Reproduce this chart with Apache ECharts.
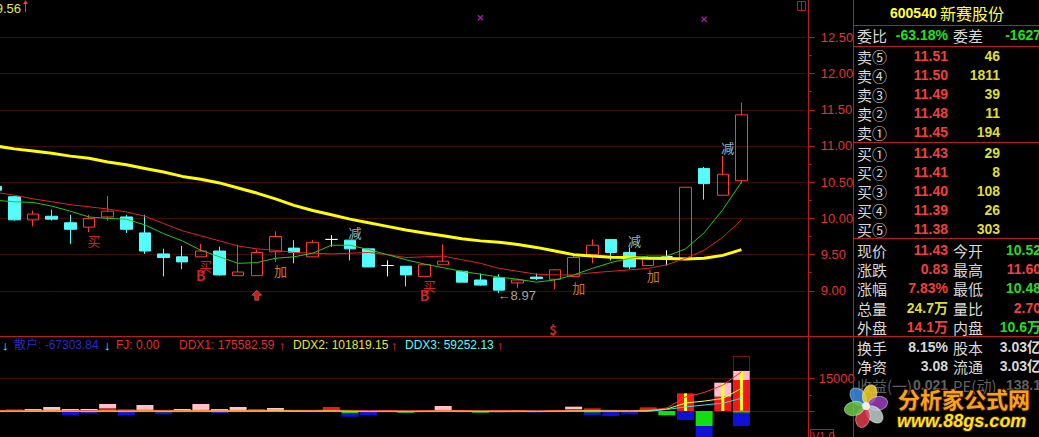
<!DOCTYPE html>
<html><head><meta charset="utf-8">
<script src="https://cdn.jsdelivr.net/npm/echarts@6/dist/echarts.min.js"></script>
<style>html,body{margin:0;padding:0;background:#000;overflow:hidden;width:1039px;height:437px;position:relative}#c{position:absolute;left:-14px;top:0;width:1053px;height:437px}</style>
</head><body><div id="c"></div>
<script>
// ---------------- DATA ----------------
const categories = ['1','2','3','4','5','6','7','8','9','10','11','12','13','14','15','16','17','18','19','20','21','22','23','24','25','26','27','28','29','30','31','32','33','34','35','36','37','38','39','40','41','42','43','44'];
const openP  = [10.44,10.30,9.98,10.03,9.94,9.88,10.02,10.02,9.80,9.51,9.47,9.47,9.55,9.21,9.21,9.54,9.59,9.47,9.71,9.70,9.58,9.35,9.34,9.20,9.36,9.27,9.15,9.18,9.11,9.19,9.16,9.20,9.50,9.71,9.53,9.35,9.47,9.45,10.69,10.32,10.52];
const closeP = [10.39,9.98,10.06,9.99,9.85,10.00,10.10,9.85,9.55,9.46,9.40,9.55,9.22,9.26,9.53,9.75,9.53,9.67,9.71,9.58,9.33,9.35,9.22,9.36,9.41,9.12,9.08,9.01,9.15,9.17,9.29,9.46,9.63,9.53,9.33,9.46,9.47,10.43,10.48,10.61,11.43];
const highP  = [10.46,10.31,10.11,10.12,10.05,10.05,10.31,10.05,10.05,9.58,9.62,9.65,9.61,9.64,9.57,9.82,9.70,9.70,9.77,9.70,9.58,9.42,9.34,9.37,9.64,9.28,9.24,9.23,9.17,9.24,9.30,9.52,9.71,9.71,9.60,9.48,9.56,10.43,10.71,10.86,11.60];
const lowP   = [10.37,9.97,9.89,9.97,9.65,9.81,9.97,9.80,9.51,9.20,9.30,9.47,9.21,9.21,9.21,9.40,9.38,9.47,9.61,9.42,9.33,9.20,9.06,9.20,9.36,9.12,9.07,8.97,9.04,9.15,9.02,9.20,9.38,9.42,9.30,9.34,9.35,9.44,10.26,10.32,10.48];
const ma5  = [10.25,10.23,10.22,10.17,10.10,10.02,10.00,9.99,9.91,9.79,9.69,9.56,9.47,9.38,9.39,9.45,9.47,9.52,9.63,9.63,9.57,9.50,9.43,9.37,9.32,9.27,9.23,9.19,9.16,9.12,9.15,9.22,9.31,9.39,9.45,9.48,9.48,9.58,9.80,10.12,10.50];
const ma10 = [10.36,10.32,10.27,10.23,10.19,10.16,10.13,10.09,10.03,9.93,9.83,9.76,9.69,9.62,9.58,9.56,9.53,9.52,9.51,9.52,9.53,9.50,9.46,9.47,9.48,9.43,9.38,9.31,9.27,9.23,9.22,9.22,9.25,9.27,9.29,9.31,9.36,9.45,9.56,9.74,9.98];
const ma60 = [11.00,10.96,10.93,10.90,10.86,10.83,10.78,10.74,10.69,10.64,10.58,10.54,10.49,10.42,10.35,10.27,10.18,10.11,10.05,9.99,9.94,9.89,9.84,9.80,9.76,9.72,9.69,9.67,9.64,9.60,9.55,9.50,9.48,9.465,9.46,9.45,9.445,9.44,9.45,9.49,9.57];
const priceMajor = [9.0,9.5,10.0,10.5,11.0,11.5,12.0,12.5];
const priceMinor = [9.25,9.75,10.25,10.75,11.25,11.75,12.25];
// signals [index, price]
const sigBuy  = [[5,9.69],[11,9.35],[23,9.07]];
const sigB    = [[11,9.22],[23,8.94]];
const sigAdd  = [[15,9.28],[31,9.04],[35,9.21]];
const sigCut  = [[19,9.80],[34,9.69],[39,10.98]];
const sigUp   = [[14,8.94]];
const sigS    = [[30,8.47]];
const sigLow  = [[27,8.93,'←8.97']];
const sigX    = [[26,12.77],[38,12.75]];
// lower DDX panel
const ddxRed   = [460,770,0,0,0,0,1240,770,460,460,0,460,0,0,930,0,460,460,1860,0,0,460,0,460,0,460,0,460,460,0,460,930,1240,0,0,1700,0,8200,0,6650,14400];
const ddxPink  = [0,0,930,1860,930,930,2000,0,2320,0,930,2780,930,1860,0,1390,0,0,0,0,0,0,0,0,2320,0,0,0,0,0,0,1080,0,0,0,0,0,0,0,6500,4200];
const ddxGreen = [0,0,0,0,0,0,0,0,0,-620,0,0,0,0,0,0,0,0,0,-1080,0,0,-770,0,0,0,-770,0,0,0,0,0,-770,0,0,0,-2000,0,-7000,0,-800];
const ddxBlue  = [-460,-460,0,0,-2000,-1240,0,-2000,0,-930,0,0,-900,0,0,0,0,-620,0,-1550,-2000,0,0,0,0,0,0,0,0,-620,0,0,-1240,-2320,-1550,0,0,-4200,-5200,0,-6200];
const ddxYellowBar = [0,0,0,0,0,0,0,0,0,0,0,0,0,0,0,0,0,0,0,0,0,0,0,0,0,0,0,0,0,0,0,0,0,0,0,0,0,8200,0,12850,18270];
const ddxBox   = [null,null,null,null,null,null,null,null,null,null,null,null,null,null,null,null,null,null,null,null,null,null,null,null,null,null,null,null,null,null,null,null,null,null,null,null,null,null,null,null,25540];
const ddx1 = [200,250,300,300,250,200,300,300,350,300,250,300,300,250,300,350,300,300,400,300,200,200,150,150,250,200,150,150,150,100,150,250,350,300,250,350,1400,6500,8600,12000,18200];
const ddx2 = [-100,-100,-50,0,-100,-150,-50,-100,0,-100,-50,0,-50,0,0,50,0,-50,50,-100,-200,-150,-200,-150,-50,-100,-150,-150,-100,-150,-100,0,50,0,-50,100,900,3700,4600,5800,10500];
const ddx3 = [-300,-250,-250,-200,-250,-300,-250,-300,-250,-300,-300,-250,-300,-250,-250,-200,-250,-250,-200,-250,-300,-300,-350,-300,-250,-300,-300,-350,-300,-300,-250,-200,-150,-200,-200,-150,700,1900,2800,3600,5900];
const volMajor = [0,15000];
const volMinor = [7500];
const volLabels = [15000];
const legendTexts = ['↓','散户: -67303.84','↓','FJ: 0.00','DDX1: 175582.59','↑','DDX2: 101819.15','↑','DDX3: 59252.13','↑'];
// quote board
const quoteCode = '600540', quoteName = '新赛股份';
const weiRow = ['委比','-63.18%','委差','-1627'];
const askLabels = ['卖⑤','卖④','卖③','卖②','卖①'];
const askPrices = ['11.51','11.50','11.49','11.48','11.45'];
const askVols   = ['46','1811','39','11','194'];
const bidLabels = ['买①','买②','买③','买④','买⑤'];
const bidPrices = ['11.43','11.41','11.40','11.39','11.38'];
const bidVols   = ['29','8','108','26','303'];
const statRows = [
  ['现价','11.43','r','今开','10.52','g'],
  ['涨跌','0.83','r','最高','11.60','r'],
  ['涨幅','7.83%','r','最低','10.48','g'],
  ['总量','24.7万','y','量比','2.70','r'],
  ['外盘','14.1万','r','内盘','10.6万','g']
];
const infoRows = [
  ['换手','8.15%','股本','3.03亿'],
  ['净资','3.08','流通','3.03亿']
];
const dimRow = ['收益(一)','0.021','PE(动)','138.1'];
const topValue = '9.56';

// ---------------- STYLE / LAYOUT ----------------
const SX = 14; // chart canvas is shifted 14px left of the page
const RED='#ff3c3c', CYAN='#54fcfc', GRN='#20e020', YEL='#e6e636', WHT='#d8d8d8';
const AX='#b81e1e', GRIDC='#7a1818';
const CJK='"Noto Sans CJK SC"';
const NUM='"Liberation Sans"';
const colorMap={r:'#f04040',g:'#22dd22',y:'#dede30',w:'#d8d8d8'};
const slotW = 18.64, gLeftPage = -13.5, gRightPage = gLeftPage + 44*slotW;

const chart = echarts.init(document.getElementById('c'), null, {renderer:'svg', width:1053, height:437});

function T(x,y,text,fill,font,align){
  return {type:'text', x:x+SX, y:y, z:20, silent:true,
    style:{text:text, fill:fill, font:font, textAlign:align||'left', textVerticalAlign:'middle', align:align||'left', verticalAlign:'middle'}};
}
function L(x1,y1,x2,y2,c,w){ return {type:'line', z:15, silent:true, shape:{x1:x1+SX,y1,x2:x2+SX,y2}, style:{stroke:c||AX, lineWidth:w||1}}; }

const graphics = [];
// panel borders
graphics.push(L(0,336.5,853,336.5));
graphics.push(L(853.5,0,853.5,437));
[25.5,46.5,142.5,238.5,336.5].forEach(y=>graphics.push(L(853,y,1039,y)));
// top-left value
graphics.push(T(21,8,topValue,'#e8e840','13px '+NUM,'right'));
graphics.push(L(25.5,1,25.5,12,'#ff3030',1));
graphics.push({type:'polygon', z:16, shape:{points:[[23+SX,4],[28+SX,4],[25.5+SX,0]]}, style:{fill:'#ff3030'}});
// top-right icon
graphics.push({type:'rect', z:16, shape:{x:797.5+SX,y:1.5,width:8,height:9}, style:{fill:'none',stroke:AX}});
graphics.push(L(801.5,2,801.5,10));
// V1.0 box
graphics.push({type:'rect', z:16, shape:{x:810.5+SX,y:429.5,width:23,height:12}, style:{fill:'none',stroke:AX}});
graphics.push(T(812,436,'V1.0','#e03030','11px '+NUM,'left'));
// lower legend
const legX=[2,14,104,116,179,279,293,391,405,497];
const legC=[CYAN,'#2a2ac8',CYAN,'#e03030','#e03030','#ff3030','#e6e636','#ff3030',CYAN,'#ff3030'];
legendTexts.forEach((t,i)=>graphics.push(T(legX[i],345,t,legC[i],(t.length===1?'13px ':'12px ')+NUM+','+CJK,'left')));
// quote board
graphics.push(T(890,13,quoteCode,'#ffff40','bold 14px '+NUM,'left'));
graphics.push(T(940,13,quoteName,'#ffff40','16px '+CJK,'left'));
const labF='15px '+CJK, numF='bold 14px '+NUM+','+CJK;
graphics.push(T(857,35,weiRow[0],WHT,labF));
graphics.push(T(948,35,weiRow[1],GRN,numF,'right'));
graphics.push(T(953,35,weiRow[2],WHT,labF));
graphics.push(T(1041,35,weiRow[3],GRN,numF,'right'));
const askY=[56,75,94,113,132], bidY=[153,172,191,210,229];
askLabels.forEach((t,i)=>{graphics.push(T(857,askY[i],t,WHT,labF));graphics.push(T(948,askY[i],askPrices[i],colorMap.r,numF,'right'));graphics.push(T(1000,askY[i],askVols[i],colorMap.y,numF,'right'));});
bidLabels.forEach((t,i)=>{graphics.push(T(857,bidY[i],t,WHT,labF));graphics.push(T(948,bidY[i],bidPrices[i],colorMap.r,numF,'right'));graphics.push(T(1000,bidY[i],bidVols[i],colorMap.y,numF,'right'));});
const statY=[250,269,288,308,327];
statRows.forEach((r,i)=>{graphics.push(T(857,statY[i],r[0],WHT,labF));graphics.push(T(948,statY[i],r[1],colorMap[r[2]],numF,'right'));graphics.push(T(953,statY[i],r[3],WHT,labF));graphics.push(T(1041,statY[i],r[4],colorMap[r[5]],numF,'right'));});
const infoY=[347,366];
infoRows.forEach((r,i)=>{graphics.push(T(857,infoY[i],r[0],WHT,labF));graphics.push(T(948,infoY[i],r[1],WHT,numF,'right'));graphics.push(T(953,infoY[i],r[2],WHT,labF));graphics.push(T(1041,infoY[i],r[3],WHT,numF,'right'));});
graphics.push(T(857,385,dimRow[0],'#606060',labF));
graphics.push(T(948,385,dimRow[1],'#606060',numF,'right'));
graphics.push(T(953,385,dimRow[2],'#606060',labF));
graphics.push(T(1041,385,dimRow[3],'#606060',numF,'right'));
// watermark logo
const petalC=['#3c8ce6','#f5d22a','#9b3dbe','#c0d0d0','#e23a4a','#6cc84a'];
const petalA=[-130,-72,-12,45,105,168];
petalA.forEach((a,i)=>{const r=a*Math.PI/180;graphics.push({type:'ellipse',z:30,silent:true,x:866+SX+12*Math.cos(r),y:406+12*Math.sin(r),rotation:-r,shape:{cx:0,cy:0,rx:10,ry:7},style:{fill:petalC[i],opacity:0.85,stroke:'rgba(255,255,255,0.5)',lineWidth:1}});});
graphics.push({type:'circle',z:31,silent:true,shape:{cx:866+SX,cy:406,r:4},style:{fill:'#f0f0f0'}});
graphics.push({type:'text',z:31,silent:true,x:898+SX,y:398,style:{text:'分析家公式网',font:'bold 22px '+CJK,fill:'#f7a21b',stroke:'#3a1800',lineWidth:2,textVerticalAlign:'middle',verticalAlign:'middle'}});
graphics.push({type:'text',z:31,silent:true,x:897+SX,y:421,style:{text:'www.88gs.com',font:'italic bold 18px '+NUM,fill:'#ffe020',stroke:'#3a2000',lineWidth:2,textVerticalAlign:'middle',verticalAlign:'middle'}});

function sigSeries(data, text, color, font, offset){
  return {type:'scatter', xAxisIndex:0, yAxisIndex:0, symbolSize:1, itemStyle:{color:'rgba(0,0,0,0)'}, z:8,
    data:data.map(d=>({value:[d[0],d[1]], name:d[2]||text})),
    label:{show:true, position:'inside', formatter:p=>p.name, color:color, fontSize:parseInt(font.replace('bold ','')), fontWeight:font.indexOf('bold')>=0?'bold':'normal', fontFamily:CJK, offset:offset}};
}

const gridL = gLeftPage + SX, gridR = 1053 - (gRightPage + SX);
const option = {
  backgroundColor:'#000000',
  animation:false,
  grid:[
    {left:gridL, right:gridR, top:0, height:336.5},
    {left:gridL, right:gridR, top:337, height:100}
  ],
  xAxis:[
    {type:'category', gridIndex:0, data:categories, show:false, boundaryGap:true},
    {type:'category', gridIndex:1, data:categories, show:false, boundaryGap:true},
    {type:'category', gridIndex:1, data:categories, show:false, boundaryGap:true},
    {type:'category', gridIndex:1, data:categories, show:false, boundaryGap:true}
  ],
  yAxis:[
    {type:'value', gridIndex:0, position:'right', offset:2, min:8.37, max:13.015, splitLine:{show:false},
      axisLine:{show:true, lineStyle:{color:AX}}, axisTick:{show:true, length:6, customValues:priceMajor, lineStyle:{color:AX}},
      axisLabel:{show:true, customValues:priceMajor, formatter:v=>Number(v).toFixed(2), color:'#e03434', fontSize:13, fontFamily:'Liberation Sans', margin:12}},
    {type:'value', gridIndex:0, position:'right', offset:2, min:8.37, max:13.015, splitLine:{show:false},
      axisLine:{show:false}, axisTick:{show:true, length:3, customValues:priceMinor, lineStyle:{color:AX}}, axisLabel:{show:false}},
    {type:'value', gridIndex:1, position:'right', offset:2, min:-12074, max:34366, splitLine:{show:false},
      axisLine:{show:true, lineStyle:{color:AX}}, axisTick:{show:true, length:6, customValues:volMajor, lineStyle:{color:AX}},
      axisLabel:{show:true, customValues:volLabels, formatter:v=>String(v), color:'#e03434', fontSize:13, fontFamily:'Liberation Sans', margin:10}},
    {type:'value', gridIndex:1, position:'right', offset:2, min:-12074, max:34366, splitLine:{show:false},
      axisLine:{show:false}, axisTick:{show:true, length:3, customValues:volMinor, lineStyle:{color:AX}}, axisLabel:{show:false}}
  ],
  graphic:{elements:graphics},
  series:[
    {type:'candlestick', xAxisIndex:0, yAxisIndex:0, barWidth:12, z:3,
      data:openP.map((o,i)=>[o, closeP[i], lowP[i], highP[i]]),
      itemStyle:{color:'rgba(0,0,0,0)', color0:CYAN, borderColor:'#ff3a3a', borderColor0:CYAN, borderColorDoji:'#ffffff', borderWidth:1},
      markLine:{silent:true, symbol:'none', label:{show:false}, animation:false, z:1,
        lineStyle:{color:GRIDC, type:'dotted', width:1}, data:priceMajor.map(v=>({yAxis:v}))}},
    {type:'line', xAxisIndex:0, yAxisIndex:0, data:ma60, symbol:'none', z:4, lineStyle:{color:'#ffff00', width:3}},
    {type:'line', xAxisIndex:0, yAxisIndex:0, data:ma10, symbol:'none', z:5, lineStyle:{color:'#e02424', width:1}},
    {type:'line', xAxisIndex:0, yAxisIndex:0, data:ma5, symbol:'none', z:5, lineStyle:{color:'#22c822', width:1}},
    sigSeries(sigBuy,'买','#ff3030','13',[5,0]),
    sigSeries(sigB,'B','#ff3030','bold 14',[0,0]),
    sigSeries(sigAdd,'加','#ff9a30','13',[5,0]),
    sigSeries(sigCut,'减','#b0ecf8','13',[5,0]),
    sigSeries(sigS,'$','#ff3030','bold 13',[-2,0]),
    {type:'scatter', xAxisIndex:0, yAxisIndex:0, z:8, data:sigLow.map(d=>({value:[d[0],d[1]], name:d[2]})), symbolSize:1, itemStyle:{color:'rgba(0,0,0,0)'},
      label:{show:true, position:'right', distance:0, formatter:p=>p.name, color:'#d0d0d0', fontSize:13, fontFamily:'Liberation Sans, DejaVu Sans', offset:[-2,0]}},
    {type:'scatter', xAxisIndex:0, yAxisIndex:0, z:8, data:sigUp, symbol:'path://M5,0 L10,5 L7,5 L7,10 L3,10 L3,5 L0,5 Z', symbolSize:[10,10], itemStyle:{color:'#ff2020', borderColor:'#ffb0b0', borderWidth:0.5}},
    {type:'scatter', xAxisIndex:0, yAxisIndex:0, z:8, data:sigX, symbol:'path://M0,0 L10,10 M10,0 L0,10', symbolSize:5, itemStyle:{color:'#d020d0', borderColor:'#d020d0', borderWidth:1.5}},
    // lower DDX panel
    {type:'bar', xAxisIndex:1, yAxisIndex:2, stack:'ddx', barWidth:17, data:ddxRed, itemStyle:{color:'#f01818'}, z:3},
    {type:'bar', xAxisIndex:1, yAxisIndex:2, stack:'ddx', barWidth:17, data:ddxPink, itemStyle:{color:'#ffc0cb'}, z:3},
    {type:'bar', xAxisIndex:1, yAxisIndex:2, stack:'ddx', barWidth:17, data:ddxGreen, itemStyle:{color:'#10e010'}, z:3},
    {type:'bar', xAxisIndex:1, yAxisIndex:2, stack:'ddx', barWidth:17, data:ddxBlue, itemStyle:{color:'#1010d8'}, z:3},
    {type:'bar', xAxisIndex:2, yAxisIndex:2, barWidth:3, data:ddxYellowBar, itemStyle:{color:'#ffff20'}, z:4},
    {type:'bar', xAxisIndex:3, yAxisIndex:2, barWidth:17, data:ddxBox, itemStyle:{color:'rgba(0,0,0,0)', borderColor:'#e03030', borderType:'dotted', borderWidth:1}, z:4},
    {type:'line', xAxisIndex:1, yAxisIndex:2, data:ddx1, symbol:'none', z:6, lineStyle:{color:'#ff3030', width:1},
      markLine:{silent:true, symbol:'none', label:{show:false}, animation:false, z:1, lineStyle:{color:'#8a2020', type:'dotted', width:1}, data:volMajor.map(v=>({yAxis:v}))}},
    {type:'line', xAxisIndex:1, yAxisIndex:2, data:ddx2, symbol:'none', z:6, lineStyle:{color:'#ffff30', width:1}},
    {type:'line', xAxisIndex:1, yAxisIndex:2, data:ddx3, symbol:'none', z:6, lineStyle:{color:'#40e0e0', width:1}}
  ]
};
chart.setOption(option);
</script>
</body></html>
